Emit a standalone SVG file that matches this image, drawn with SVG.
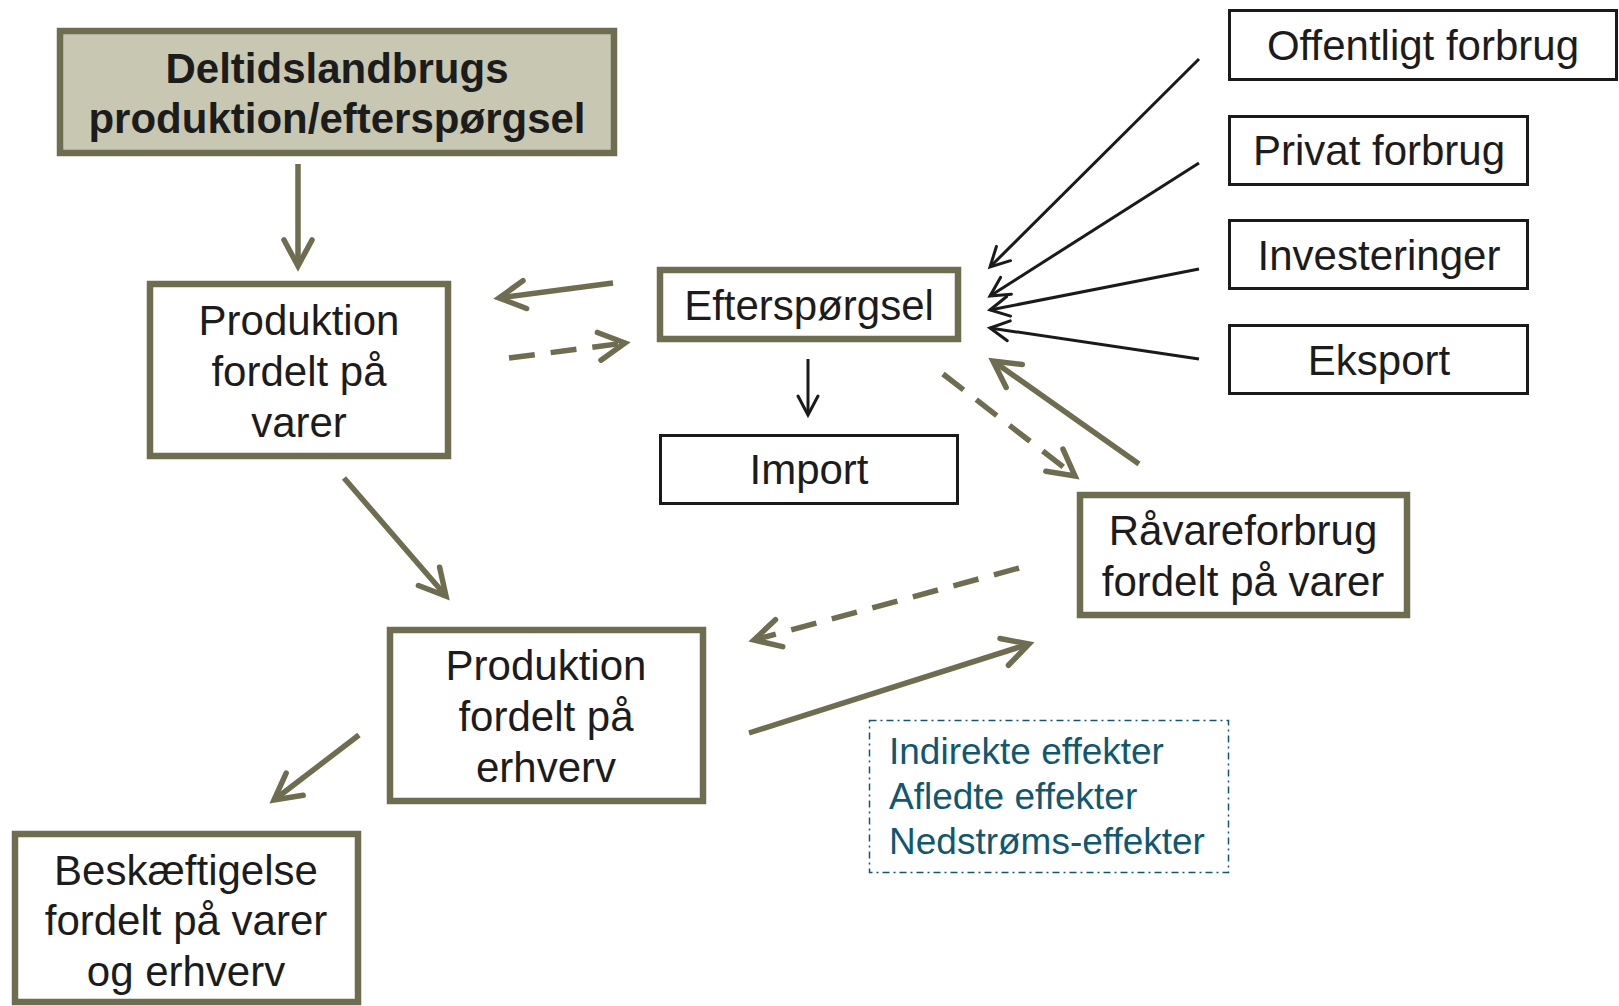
<svg xmlns="http://www.w3.org/2000/svg" width="1619" height="1006" viewBox="0 0 1619 1006">
<style>
.ob{fill:#fff;stroke:#6f6d50;stroke-width:6.5}
.bb{fill:#fff;stroke:#1a1a1a;stroke-width:3}
.t{font-family:"Liberation Sans",Arial,sans-serif;font-size:42px;fill:#1c1c1c;text-anchor:middle}
.tb{font-weight:bold}
.tl{font-family:"Liberation Sans",Arial,sans-serif;font-size:37px;fill:#0f5870}
.ol{fill:none;stroke:#6f6d50;stroke-width:5.5}
.od{fill:none;stroke:#6f6d50;stroke-width:5.5;stroke-dasharray:26 16}
.bl{fill:none;stroke:#1a1a1a;stroke-width:3}
</style>
<defs>
<marker id="oh" markerUnits="userSpaceOnUse" viewBox="-32 -20 36 40" refX="0" refY="0" markerWidth="36" markerHeight="40" orient="auto" overflow="visible">
<path d="M-26,-14 L0,0 L-26,14" fill="none" stroke="#6f6d50" stroke-width="5.5" stroke-linecap="round"/>
</marker>
<marker id="bh" markerUnits="userSpaceOnUse" viewBox="-24 -14 28 28" refX="0" refY="0" markerWidth="28" markerHeight="28" orient="auto" overflow="visible">
<path d="M-19,-10 L0,0 L-19,10" fill="none" stroke="#1a1a1a" stroke-width="3" stroke-linecap="round"/>
</marker>
</defs>

<g id="connectors">
<path class="ol" d="M298,164 L298,266" marker-end="url(#oh)"/>
<path class="ol" d="M613,283 L499,298" marker-end="url(#oh)"/>
<path class="od" d="M509,358 L625,343" marker-end="url(#oh)"/>
<path class="ol" d="M344,478 L446,596" marker-end="url(#oh)"/>
<path class="od" d="M943,374 L1075,476" marker-end="url(#oh)"/>
<path class="ol" d="M1139,464 L993,361" marker-end="url(#oh)"/>
<path class="od" d="M1019,568 L754,640" marker-end="url(#oh)"/>
<path class="ol" d="M749,733 L1029,644" marker-end="url(#oh)"/>
<path class="ol" d="M359,735 L274,800" marker-end="url(#oh)"/>
<path class="bl" d="M808,359 L808,415" marker-end="url(#bh)"/>
<path class="bl" d="M1199,59 L990,267" marker-end="url(#bh)"/>
<path class="bl" d="M1199,163 L990,296" marker-end="url(#bh)"/>
<path class="bl" d="M1199,269 L990,310" marker-end="url(#bh)"/>
<path class="bl" d="M1199,359 L990,328" marker-end="url(#bh)"/>
</g>

<g id="node-deltid">
<rect x="60" y="31" width="554" height="122" fill="#c8c7b2" stroke="#6f6d50" stroke-width="6.5"/>
<text class="t tb" x="337" y="83">Deltidslandbrugs</text>
<text class="t tb" x="337" y="133">produktion/efterspørgsel</text>
</g>

<g id="node-prod-varer">
<rect class="ob" x="150" y="284" width="298" height="172"/>
<text class="t" x="299" y="335">Produktion</text>
<text class="t" x="299" y="386">fordelt på</text>
<text class="t" x="299" y="437">varer</text>
</g>

<g id="node-efterspoergsel">
<rect class="ob" x="660" y="270" width="298" height="69"/>
<text class="t" x="809" y="320">Efterspørgsel</text>
</g>

<g id="node-import">
<rect class="bb" x="660.5" y="435.5" width="297" height="68"/>
<text class="t" x="809" y="484">Import</text>
</g>

<g id="node-offentligt">
<rect class="bb" x="1229.5" y="10.5" width="387" height="69"/>
<text class="t" x="1423" y="60">Offentligt forbrug</text>
</g>

<g id="node-privat">
<rect class="bb" x="1229.5" y="116.5" width="298" height="68"/>
<text class="t" x="1379" y="165">Privat forbrug</text>
</g>

<g id="node-investeringer">
<rect class="bb" x="1229.5" y="220.5" width="298" height="68"/>
<text class="t" x="1379" y="270">Investeringer</text>
</g>

<g id="node-eksport">
<rect class="bb" x="1229.5" y="325.5" width="298" height="68"/>
<text class="t" x="1379" y="375">Eksport</text>
</g>

<g id="node-raavare">
<rect class="ob" x="1080" y="495" width="327" height="120"/>
<text class="t" x="1243" y="545">Råvareforbrug</text>
<text class="t" x="1243" y="596">fordelt på varer</text>
</g>

<g id="node-prod-erhverv">
<rect class="ob" x="390" y="630" width="313" height="171"/>
<text class="t" x="546" y="680">Produktion</text>
<text class="t" x="546" y="731">fordelt på</text>
<text class="t" x="546" y="782">erhverv</text>
</g>

<g id="node-beskaeftigelse">
<rect class="ob" x="15" y="834" width="343" height="168"/>
<text class="t" x="186" y="885">Beskæftigelse</text>
<text class="t" x="186" y="935">fordelt på varer</text>
<text class="t" x="186" y="986">og erhverv</text>
</g>

<g id="node-effekter">
<rect x="869.5" y="720.5" width="359" height="152" fill="none" stroke="#0f5870" stroke-width="1.5" stroke-dasharray="7 4 2 4"/>
<text class="tl" x="889" y="764">Indirekte effekter</text>
<text class="tl" x="889" y="809">Afledte effekter</text>
<text class="tl" x="889" y="854">Nedstrøms-effekter</text>
</g>
</svg>
